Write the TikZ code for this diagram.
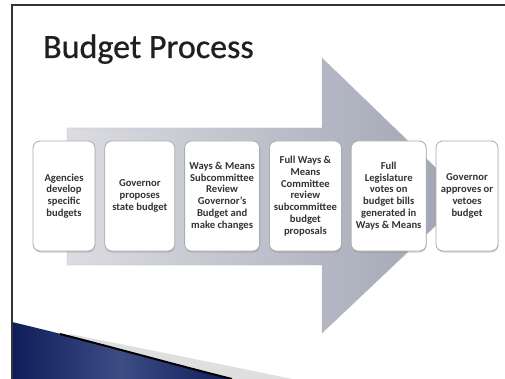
\documentclass[tikz,border=0pt]{standalone}
\usepackage{fontspec}
\setmainfont{Carlito}
\newfontfamily\titlefont[FakeBold=0.7]{Carlito}
\usetikzlibrary{positioning, shadows}

\definecolor{boxtext}{HTML}{333333}
\definecolor{arrowlight}{HTML}{DCDDE2}
\definecolor{arrowdark}{HTML}{9EA2B2}
\definecolor{navy}{HTML}{0E1E5A}
\definecolor{navylight}{HTML}{3E4C84}

\tikzset{
  stepbox/.style={draw=gray!65, line width=0.8pt, rounded corners=7pt, fill=white,
    minimum height=110pt, align=center, text=boxtext, inner sep=1pt, font=\bfseries\fontsize{10.6}{11.8}\selectfont,
    drop shadow={opacity=0.35, shadow xshift=0.4pt, shadow yshift=-1.5pt}},
  bigarrow/.style={left color=arrowlight, right color=arrowdark, draw=gray!55, line width=0.4pt}
}

\begin{document}
\begin{tikzpicture}[x=1pt, y=-1pt, node distance=9pt]  % pixel-like coordinates, y going down
    \useasboundingbox (0,0) rectangle (505,379);
    \fill[white] (0,0) rectangle (505,379);

    % Slide frame and bottom swoosh
    \fill[gray!25] (70,334) .. controls (150,350) and (230,366) .. (292,379) -- (230,379) .. controls (160,360) and (100,343) .. (70,337) -- cycle;
    \shade[left color=navy, right color=navy, middle color=navylight] (12,322) .. controls (80,338) and (160,360) .. (230,379) -- (12,379) -- cycle;
    \draw[black, line width=2pt] (60,334) .. controls (130,352) and (180,366) .. (232,379);
    \draw[black!80, line width=1.5pt] (12,379) -- (12,5) -- (505,5);

    % Title
    \node (title) [anchor=base west, inner sep=0pt, font=\titlefont\fontsize{34}{38}\selectfont, text=black!88] at (43,58) {Budget Process};

    % Big arrow behind the boxes
    \path[bigarrow] (67,128) -- (322,128) -- (322,58) -- (466,197) -- (322,333) -- (322,265) -- (67,265) -- cycle;

    % Nodes
    \node (agencies) [stepbox, minimum width=62pt] at (64,196) {Agencies\\develop\\specific\\budgets};  % first step
    \node (proposes) [stepbox, minimum width=70pt, right=of agencies] {Governor\\proposes\\state budget};
    \node (subcomm) [stepbox, minimum width=75pt, right=of proposes] {Ways \& Means\\Subcommittee\\Review\\Governor's\\Budget and\\make changes};
    \node (fullcomm) [stepbox, minimum width=72pt, right=of subcomm] {Full Ways \&\\Means\\Committee\\review\\subcommittee\\budget\\proposals};
    \node (legislature) [stepbox, minimum width=75pt, right=of fullcomm] {Full\\Legislature\\votes on\\budget bills\\generated in\\Ways \& Means};
    \node (approves) [stepbox, minimum width=62pt, right=of legislature] {Governor\\approves or\\vetoes\\budget};  % last step
\end{tikzpicture}
\end{document}
